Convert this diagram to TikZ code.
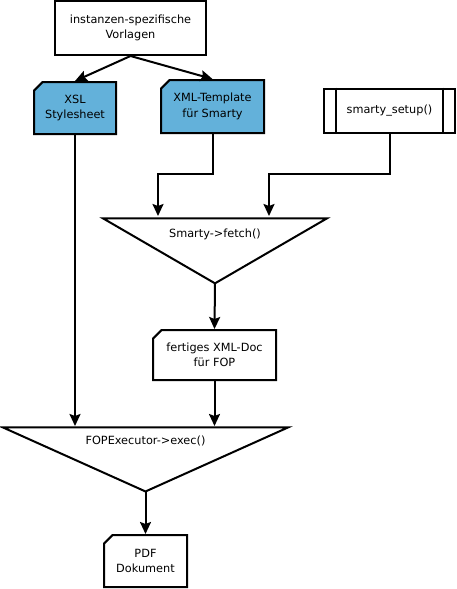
\documentclass[tikz,border=0pt]{standalone}
\usepackage{fontspec}
\setmainfont{DejaVu Sans}
\usetikzlibrary{shapes.geometric, shapes.misc, arrows.meta, positioning}
\definecolor{docblue}{RGB}{99,177,218}
\tikzstyle{rect} = [rectangle, draw=black, fill=white, align=center]
\tikzstyle{doc} = [chamfered rectangle, chamfered rectangle corners=north west, chamfered rectangle xsep=5pt, draw=black, align=center, inner sep=0pt]
\tikzstyle{proc} = [rectangle, draw=black, align=center, append after command={
    ([xshift=13pt]\tikzlastnode.north west) edge[-] ([xshift=13pt]\tikzlastnode.south west)
    ([xshift=-13pt]\tikzlastnode.north east) edge[-] ([xshift=-13pt]\tikzlastnode.south east)}]
\tikzstyle{funnel} = [isosceles triangle, isosceles triangle stretches, shape border rotate=270, draw=black, inner sep=0pt, outer sep=0pt]
\tikzstyle{blank} = [rectangle, align=center]
\tikzstyle{arrow} = [-{Stealth[length=12pt,width=11pt,inset=2pt]}]

\begin{document}
\begin{tikzpicture}[x=1pt, y=-1pt, line width=2pt, every node/.style={font=\fontsize{11.3}{15.5}\selectfont}]
        \useasboundingbox (0,0) rectangle (457,589);

        \node[rect, minimum width=151pt, minimum height=54pt] (tpl) at (130.5,28) {instanzen-spezifische\\Vorlagen};
        \node[doc, fill=docblue, minimum width=82pt, minimum height=52pt] (xsl) at (75,108) {XSL\\Stylesheet};
        \node[doc, fill=docblue, minimum width=103pt, minimum height=53pt] (xml) at (212.5,106.5) {XML-Template\\für Smarty};
        \node[proc, minimum width=131pt, minimum height=44pt] (setup) at (389.5,110.5) {smarty\_setup()};

        \node[funnel, minimum width=224pt, minimum height=65pt] (fetch) at (215,248.5) {};
        \node[blank] (fetchtxt) at (215,234) {Smarty->fetch()};

        \node[doc, fill=white, minimum width=123pt, minimum height=50pt] (xmldoc) at (214.5,355) {fertiges XML-Doc\\für FOP};

        \node[funnel, minimum width=285pt, minimum height=64pt] (exec) at (145.5,458) {};
        \node[blank] (exectxt) at (145.5,441) {FOPExecutor->exec()};

        \node[doc, fill=white, minimum width=83pt, minimum height=52pt] (pdf) at (145.5,561) {PDF\\Dokument};

        % Vorlagen
        \draw[arrow] (tpl.south) -- (xsl.north);
        \draw[arrow] (tpl.south) -- (xml.north);

        % Smarty
        \draw[arrow] (xml.south) |- (158,174) -- (158,216);
        \draw[arrow] (setup.south) |- (269,174) -- (269,216);
        \draw[arrow] (fetch.apex) -- (xmldoc.north);

        % FOP
        \draw[arrow] (xsl.south) -- (xsl.south |- 0,426);
        \draw[arrow] (xmldoc.south) -- (xmldoc.south |- 0,426);
        \draw[arrow] (exec.apex) -- (pdf.north);
\end{tikzpicture}
\end{document}
